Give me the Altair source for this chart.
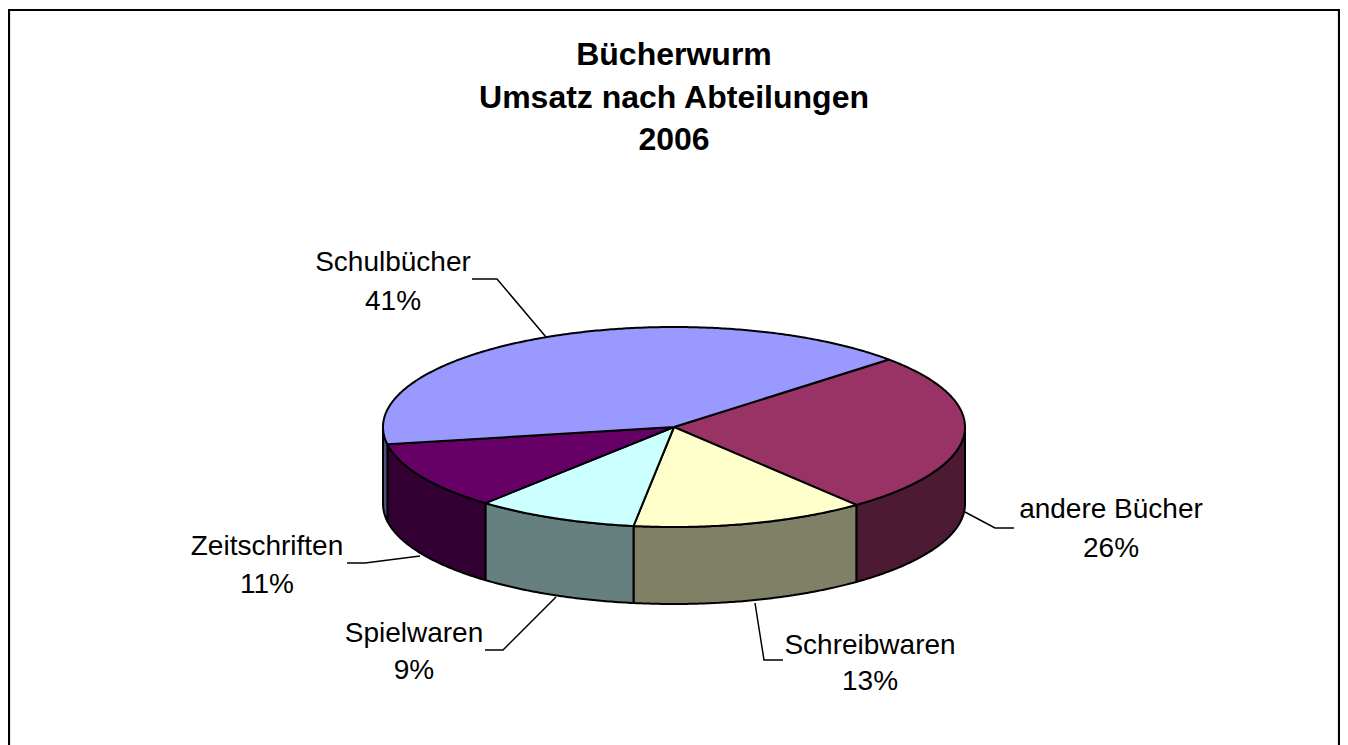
import math
import altair as alt
import pandas as pd

# ---- chart values ----
categories = ["andere Bücher", "Schreibwaren", "Spielwaren", "Zeitschriften", "Schulbücher"]
shares = [26, 13, 9, 11, 41]
percent_labels = ["26%", "13%", "9%", "11%", "41%"]
title_lines = ["Bücherwurm", "Umsatz nach Abteilungen", "2006"]
top_colors = ["#993366", "#FFFFCC", "#CCFFFF", "#660066", "#9999FF"]
side_colors = ["#4D1A33", "#808066", "#668080", "#330033", "#4D4D80"]

# ---- layout ----
W, H = 1332, 737
CX, CY, RX, RY, DEPTH = 674, 427, 291, 100, 77
START = 47.6
TITLE_SIZE, LABEL_SIZE = 32, 28
title_y = [65, 108, 150]
label_pos = {
    "Schulbücher": (393, 271, 310),
    "andere Bücher": (1111, 518, 557),
    "Zeitschriften": (267, 555, 593),
    "Spielwaren": (414, 642, 679),
    "Schreibwaren": (870, 654, 690),
}
leaders = {
    "Schulbücher": [(472, 279), (497, 279), (546, 337)],
    "andere Bücher": [(965, 512), (995, 528), (1014, 528)],
    "Zeitschriften": [(347, 563), (365, 563), (420, 556)],
    "Spielwaren": [(485, 650), (503, 650), (556, 597)],
    "Schreibwaren": [(755, 603), (764, 660), (783, 660)],
}
frame = [(9, 745), (9, 10), (1339, 10), (1339, 745)]


def pt(angle, dy=0.0):
    a = math.radians(angle)
    return CX + RX * math.sin(a), CY - RY * math.cos(a) + dy


def arc(a0, a1):
    n = max(2, int(abs(a1 - a0) * 2))
    return [pt(a0 + (a1 - a0) * i / n) for i in range(n + 1)]


top_rows, side_rows = [], []
angle = START
for cat, share in zip(categories, shares):
    a0, a1 = angle, angle + share * 3.6
    angle = a1
    poly = [(CX, CY)] + arc(a0, a1) + [(CX, CY)]
    top_rows += [dict(key=cat, x=x, y=y, o=i) for i, (x, y) in enumerate(poly)]
    s0, s1 = max(a0, 90), min(a1, 270)
    if s1 > s0:
        front = arc(s0, s1)
        back = [(x, y + DEPTH) for x, y in reversed(front)]
        poly = front + back + [front[0]]
        side_rows += [dict(key=cat, x=x, y=y, o=i) for i, (x, y) in enumerate(poly)]

x_scale = alt.Scale(domain=[8, 8 + W], range=[0, W], nice=False, zero=False)
y_scale = alt.Scale(domain=[8 + H, 8], range=[H, 0], nice=False, zero=False)
X = alt.X("x:Q", scale=x_scale, axis=None)
Y = alt.Y("y:Q", scale=y_scale, axis=None)


def faces(rows, colors):
    return (
        alt.Chart(pd.DataFrame(rows))
        .mark_line(stroke="black", strokeWidth=2, strokeJoin="round", clip=False)
        .encode(
            x=X, y=Y, order="o:Q", detail="key:N",
            fill=alt.Fill("key:N", scale=alt.Scale(domain=categories, range=colors), legend=None),
        )
    )


def lines(rows, width):
    return (
        alt.Chart(pd.DataFrame(rows))
        .mark_line(stroke="black", strokeWidth=width, clip=False)
        .encode(x=X, y=Y, order="o:Q", detail="key:N")
    )


leader_rows = [
    dict(key=k, x=x, y=y, o=i) for k, p in leaders.items() for i, (x, y) in enumerate(p)
]
frame_rows = [dict(key="frame", x=x, y=y, o=i) for i, (x, y) in enumerate(frame)]

label_rows = []
for cat, pct in zip(categories, percent_labels):
    x, y1, y2 = label_pos[cat]
    label_rows += [dict(x=x, y=y1, t=cat), dict(x=x, y=y2, t=pct)]
title_rows = [dict(x=CX, y=y, t=t) for t, y in zip(title_lines, title_y)]

labels = (
    alt.Chart(pd.DataFrame(label_rows))
    .mark_text(font="Liberation Sans", fontSize=LABEL_SIZE, align="center", baseline="alphabetic", color="black")
    .encode(x=X, y=Y, text="t:N")
)
title = (
    alt.Chart(pd.DataFrame(title_rows))
    .mark_text(font="Liberation Sans", fontSize=TITLE_SIZE, fontWeight="bold", align="center", baseline="alphabetic", color="black")
    .encode(x=X, y=Y, text="t:N")
)

chart = (
    alt.layer(
        lines(frame_rows, 2.2),
        lines(leader_rows, 1.5),
        faces(side_rows, side_colors),
        faces(top_rows, top_colors),
        labels,
        title,
    )
    .resolve_scale(fill="independent")
    .properties(width=W, height=H, padding=0, autosize=alt.AutoSizeParams(type="none"), background="white")
    .configure_view(stroke=None)
)

chart.save("out.html", embed_options={"renderer": "svg", "actions": False})
